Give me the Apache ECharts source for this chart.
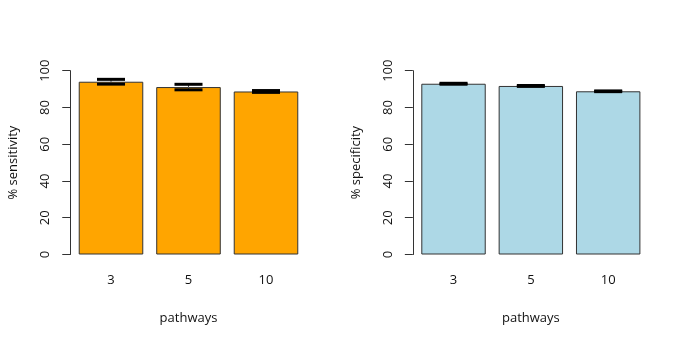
<!DOCTYPE html>
<html>
<head>
<meta charset="UTF-8">
<script src="https://cdn.jsdelivr.net/npm/echarts@6/dist/echarts.min.js"></script>
<style>
  * { margin: 0; padding: 0; }
  body { background: #fff; }
  #chart { width: 685px; height: 342px; }
</style>
</head>
<body>
<div id="chart"></div>
<script>
  // data
  const pathways = ['3', '5', '10'];
  const sensitivity = [94.0, 91.1, 88.7];
  const sensitivityErr = [1.3, 1.5, 0.5];
  const specificity = [92.9, 91.7, 88.8];
  const specificityErr = [0.25, 0.25, 0.2];
  const yTicks = [0, 20, 40, 60, 80, 100];

  const font = '"Open Sans", sans-serif';
  const chart = echarts.init(document.getElementById('chart'));

  // error bars: thin stem + thick caps
  function errorItem(params, api) {
    const x = api.value(0);
    const v = api.value(1);
    const e = api.value(2);
    const hi = api.coord([x, v + e]);
    const lo = api.coord([x, v - e]);
    const half = 14;
    const cap = { stroke: '#000', lineWidth: 3 };
    return {
      type: 'group',
      children: [
        { type: 'line', shape: { x1: hi[0], y1: hi[1], x2: lo[0], y2: lo[1] }, style: { stroke: '#555', lineWidth: 1 } },
        { type: 'line', shape: { x1: hi[0] - half, y1: hi[1], x2: hi[0] + half, y2: hi[1] }, style: cap },
        { type: 'line', shape: { x1: lo[0] - half, y1: lo[1], x2: lo[0] + half, y2: lo[1] }, style: cap }
      ]
    };
  }

  function xAxisOpt(idx) {
    return {
      type: 'category',
      gridIndex: idx,
      data: pathways,
      axisLine: { show: false },
      axisTick: { show: false },
      axisLabel: { color: '#111', fontFamily: font, fontSize: 13, margin: 19 },
      name: 'pathways',
      nameLocation: 'middle',
      nameGap: 57,
      nameTextStyle: { color: '#111', fontFamily: font, fontSize: 13 }
    };
  }

  function yAxisOpt(idx, name) {
    return {
      type: 'value',
      gridIndex: idx,
      min: 0,
      max: 100,
      interval: 20,
      offset: 2,
      splitLine: { show: false },
      axisLine: { show: true, lineStyle: { color: '#333', width: 1 } },
      axisTick: { show: true, length: 8, lineStyle: { color: '#333' } },
      axisLabel: {
        color: '#111', fontFamily: font, fontSize: 13, rotate: 90, margin: 18,
        formatter: v => yTicks.includes(v) ? String(v) : ''
      },
      name: name,
      nameLocation: 'middle',
      nameGap: 50,
      nameTextStyle: { color: '#111', fontFamily: font, fontSize: 13 }
    };
  }

  chart.setOption({
    animation: false,
    grid: [
      { left: 72.25, top: 70.7, width: 232.5, height: 183.8 },
      { left: 414.85, top: 70.7, width: 232, height: 183.8 }
    ],
    xAxis: [xAxisOpt(0), xAxisOpt(1)],
    yAxis: [yAxisOpt(0, '% sensitivity'), yAxisOpt(1, '% specificity')],
    series: [
      {
        type: 'bar', xAxisIndex: 0, yAxisIndex: 0, data: sensitivity,
        barCategoryGap: '16.7%',
        itemStyle: { color: '#FFA500', borderColor: '#333', borderWidth: 1 }
      },
      {
        type: 'bar', xAxisIndex: 1, yAxisIndex: 1, data: specificity,
        barCategoryGap: '16.7%',
        itemStyle: { color: '#ADD8E6', borderColor: '#333', borderWidth: 1 }
      },
      {
        type: 'custom', xAxisIndex: 0, yAxisIndex: 0, renderItem: errorItem,
        encode: { x: 0, y: 1 }, z: 5,
        data: sensitivity.map((v, i) => [i, v, sensitivityErr[i]])
      },
      {
        type: 'custom', xAxisIndex: 1, yAxisIndex: 1, renderItem: errorItem,
        encode: { x: 0, y: 1 }, z: 5,
        data: specificity.map((v, i) => [i, v, specificityErr[i]])
      }
    ]
  });
</script>
</body>
</html>
